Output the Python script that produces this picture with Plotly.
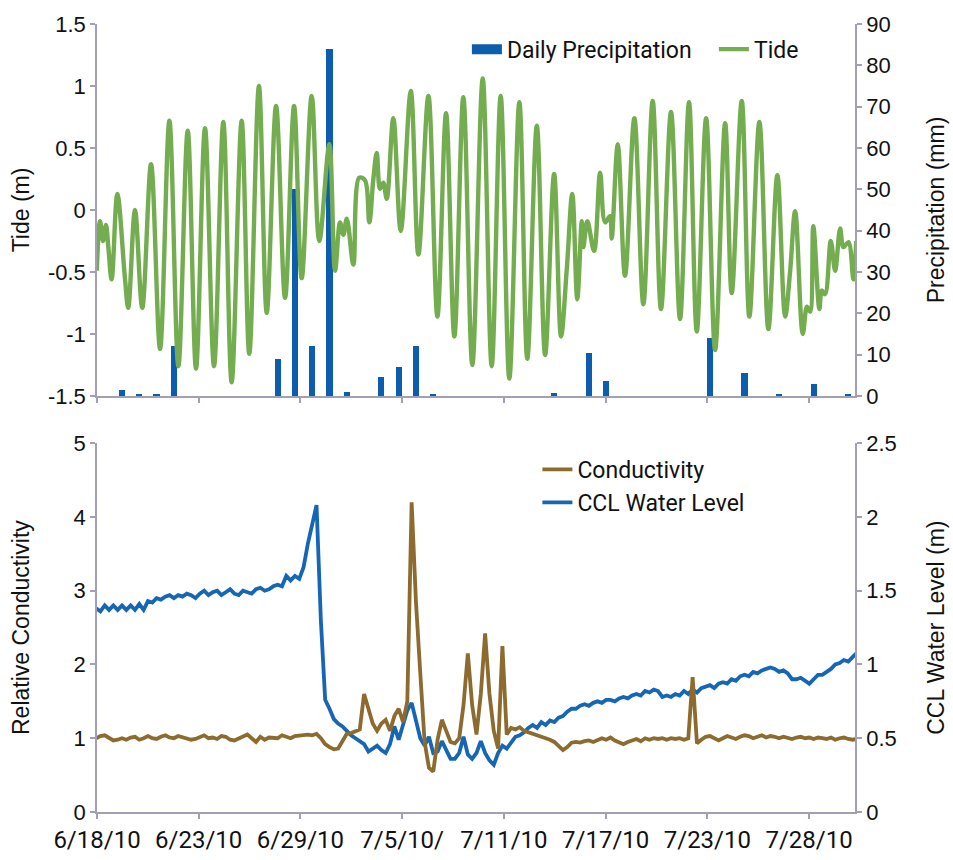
import numpy as np
import plotly.graph_objects as go

# ---- time axis labels (days since 6/18/10) ----
date_labels = ["6/18/10", "6/23/10", "6/29/10", "7/5/10/", "7/11/10", "7/17/10", "7/23/10", "7/28/10"]
first_tick_day = -0.446
tick_spacing_days = 5.883
x_range = [-0.446, 43.39]

# ---- daily precipitation (mm) ----
precip_day = list(range(1, 44))
precip_mm = [1.5, 0.3, 0.3, 12, 0, 0, 0, 0, 0, 9,
             50, 12, 84, 1, 0, 4.5, 7, 12, 0.3, 0,
             0, 0, 0, 0, 0, 0.8, 0, 10.4, 3.7, 0,
             0, 0, 0, 0, 14, 0, 5.6, 0, 0.3, 0,
             2.9, 0, 0.5]

# ---- tide (m): highs and lows with their times ----
tide_day = [-0.46, -0.27, -0.10, 0.07, 0.21, 0.40, 0.73, 1.17, 1.36, 1.75,
            2.17, 2.68, 3.20, 3.74, 4.26, 4.80, 5.28, 5.80, 6.32, 6.86,
            7.34, 7.92, 8.36, 8.92, 9.37, 9.91, 10.43, 10.95, 11.39, 11.97,
            12.41, 12.99, 13.32, 13.61, 13.80, 14.00, 14.38, 14.72, 15.05, 15.30,
            15.53, 15.73, 15.92, 16.11, 16.31, 16.69, 17.12, 17.70, 18.14, 18.72,
            19.24, 19.74, 20.22, 20.74, 21.26, 21.86, 22.38, 22.90, 23.40, 23.98,
            24.44, 24.99, 25.47, 25.99, 26.39, 26.72, 27.04, 27.33, 27.59, 27.68,
            27.91, 28.30, 28.65, 28.94, 29.22, 29.32, 29.67, 30.09, 30.63, 31.15,
            31.69, 32.17, 32.75, 33.27, 33.79, 34.24, 34.78, 35.30, 35.88, 36.26,
            36.84, 37.28, 37.86, 38.38, 38.90, 39.35, 39.64, 39.93, 40.37, 40.61,
            40.79, 40.98, 41.33, 41.47, 41.66, 41.99, 42.24, 42.53, 42.72, 43.01,
            43.30, 43.46]
tide_m = [-0.49, -0.09, -0.25, -0.12, -0.30, -0.56, 0.13, -0.55, -0.79, 0.0,
          -0.79, 0.37, -1.12, 0.72, -1.26, 0.64, -1.28, 0.66, -1.26, 0.71,
          -1.39, 0.72, -1.16, 1.0, -0.83, 0.84, -0.71, 0.84, -0.55, 0.92,
          -0.25, 0.53, -0.49, -0.10, -0.2, -0.07, -0.44, 0.26, 0.24, -0.10,
          0.24, 0.46, 0.17, 0.22, 0.09, 0.74, -0.17, 0.96, -0.36, 0.92,
          -0.86, 0.78, -1.02, 0.91, -1.25, 1.06, -1.26, 0.92, -1.36, 0.87,
          -1.2, 0.68, -1.17, 0.29, -1.02, -0.48, 0.13, -0.72, -0.09, -0.3,
          -0.09, -0.33, 0.30, -0.1, -0.05, -0.23, 0.53, -0.53, 0.74, -0.76,
          0.88, -0.8, 0.79, -0.88, 0.87, -0.98, 0.74, -1.13, 0.70, -0.67,
          0.88, -0.86, 0.71, -0.96, 0.28, -0.86, -0.49, -0.01, -1.0, -0.78,
          -0.82, -0.13, -0.8, -0.65, -0.68, -0.25, -0.49, -0.15, -0.3, -0.26,
          -0.56, -0.25]

# ---- logger series, one reading every 6 hours starting 6/17 12:00 ----
logger_start_day = -0.5
logger_step_day = 0.25
ccl_level_m = [1.38, 1.36, 1.40, 1.37, 1.40, 1.37, 1.40, 1.37, 1.40, 1.37,
               1.41, 1.37, 1.43, 1.42, 1.45, 1.44, 1.46, 1.47, 1.45, 1.47,
               1.46, 1.48, 1.47, 1.45, 1.48, 1.50, 1.47, 1.49, 1.50, 1.47,
               1.49, 1.51, 1.48, 1.47, 1.50, 1.49, 1.48, 1.51, 1.52, 1.50,
               1.51, 1.53, 1.54, 1.53, 1.60, 1.57, 1.60, 1.58, 1.66, 1.82,
               1.95, 2.08, 1.30, 0.76, 0.70, 0.63, 0.60, 0.58, 0.55, 0.52,
               0.50, 0.48, 0.46, 0.41, 0.43, 0.45, 0.42, 0.40, 0.46, 0.58,
               0.49, 0.60, 0.69, 0.74, 0.62, 0.50, 0.45, 0.51, 0.40, 0.41,
               0.48, 0.42, 0.36, 0.36, 0.40, 0.51, 0.39, 0.36, 0.40, 0.48,
               0.40, 0.35, 0.32, 0.40, 0.45, 0.43, 0.47, 0.51, 0.52, 0.54,
               0.57, 0.59, 0.57, 0.61, 0.59, 0.62, 0.61, 0.64, 0.65, 0.68,
               0.70, 0.70, 0.72, 0.73, 0.72, 0.74, 0.75, 0.74, 0.76, 0.76,
               0.75, 0.77, 0.78, 0.77, 0.79, 0.80, 0.79, 0.82, 0.81, 0.83,
               0.82, 0.78, 0.79, 0.78, 0.80, 0.79, 0.82, 0.80, 0.83, 0.81,
               0.84, 0.85, 0.86, 0.84, 0.87, 0.88, 0.87, 0.90, 0.89, 0.92,
               0.93, 0.92, 0.95, 0.94, 0.96, 0.97, 0.98, 0.97, 0.95, 0.96,
               0.94, 0.90, 0.90, 0.91, 0.89, 0.87, 0.90, 0.93, 0.93, 0.95,
               0.97, 1.00, 1.01, 1.03, 1.02, 1.05, 1.08]
rel_conductivity = [1.00, 1.03, 1.04, 1.00, 0.97, 0.98, 1.00, 0.98, 1.01, 1.02,
                    0.98, 1.00, 1.03, 1.00, 0.99, 1.02, 1.04, 1.01, 1.00, 1.03,
                    1.01, 1.00, 0.98, 0.99, 1.02, 1.04, 1.00, 1.01, 0.99, 1.03,
                    1.02, 0.98, 0.97, 1.00, 1.03, 1.05, 1.00, 0.95, 1.02, 0.98,
                    1.01, 1.01, 1.00, 1.04, 1.02, 1.00, 1.03, 1.04, 1.04, 1.05,
                    1.04, 1.06, 1.00, 0.92, 0.88, 0.85, 0.86, 0.95, 1.06, 1.07,
                    1.09, 1.12, 1.60, 1.40, 1.20, 1.10, 1.20, 1.25, 1.10, 1.30,
                    1.40, 1.22, 1.50, 4.20, 2.85, 1.88, 0.95, 0.60, 0.55, 0.98,
                    1.25, 1.10, 0.95, 0.93, 1.00, 1.45, 2.15, 1.45, 1.05, 1.60,
                    2.42, 1.60, 1.10, 0.86, 2.25, 1.05, 1.14, 1.12, 1.15, 1.10,
                    1.08, 1.06, 1.04, 1.03, 1.00, 0.98, 0.95, 0.90, 0.84, 0.88,
                    0.94, 0.95, 0.94, 0.96, 0.97, 0.95, 0.98, 1.00, 0.98, 1.01,
                    0.97, 0.94, 0.92, 0.95, 0.97, 0.99, 0.96, 1.00, 0.98, 1.00,
                    0.99, 1.00, 0.98, 1.00, 0.99, 1.00, 0.98, 1.00, 1.83, 0.93,
                    0.98, 1.02, 1.03, 1.00, 0.97, 1.00, 1.03, 1.01, 0.99, 1.02,
                    1.04, 1.03, 1.00, 1.02, 1.04, 1.01, 1.03, 1.02, 1.00, 1.02,
                    1.01, 0.99, 1.01, 1.02, 1.00, 1.01, 0.99, 1.01, 1.00, 0.99,
                    1.01, 0.98, 1.00, 1.01, 0.99, 0.98, 0.99]

# ---- axis tick labels ----
tide_ticks = [-1.5, -1, -0.5, 0, 0.5, 1, 1.5]
tide_tick_text = ["-1.5", "-1", "-0.5", "0", "0.5", "1", "1.5"]
ccl_ticks = [0, 0.5, 1, 1.5, 2, 2.5]
ccl_tick_text = ["0", "0.5", "1", "1.5", "2", "2.5"]

# ---- styling ----
GREEN = "#74AD50"
BAR_BLUE = "#0D5DAE"
LINE_BLUE = "#1666B6"
BROWN = "#8D6B2E"
AXIS = "#A29FB6"
NUM_FONT = dict(family="Liberation Sans, Arial, sans-serif", size=22, color="#111")
TITLE_FONT = dict(family="Liberation Sans, Arial, sans-serif", size=23, color="#111")
COND_FONT = dict(family="Roboto, Liberation Sans, sans-serif", size=23, color="#111")
DATE_FONT = dict(family="Roboto, Liberation Sans, sans-serif", size=24, color="#111")

tick_days = [first_tick_day + i * tick_spacing_days for i in range(len(date_labels))]
logger_day = logger_start_day + logger_step_day * np.arange(len(ccl_level_m))

fig = go.Figure()

fig.add_trace(go.Bar(x=precip_day, y=precip_mm, width=0.36, marker_color=BAR_BLUE,
                     marker_line_width=0, xaxis="x", yaxis="y", showlegend=False))
fig.add_trace(go.Scatter(x=[None], y=[None], mode="lines", name="Daily Precipitation",
                         line=dict(color=BAR_BLUE, width=10), xaxis="x", yaxis="y",
                         legend="legend", legendrank=1))
fig.add_trace(go.Scatter(x=tide_day, y=tide_m, mode="lines", name="Tide",
                         line=dict(color=GREEN, width=4.4, shape="spline", smoothing=1.0),
                         xaxis="x", yaxis="y2", legend="legend", legendrank=2))

fig.add_trace(go.Scatter(x=logger_day, y=ccl_level_m, mode="lines", name="CCL Water Level",
                         line=dict(color=LINE_BLUE, width=3.8), xaxis="x2", yaxis="y3",
                         legend="legend2", legendrank=2))
fig.add_trace(go.Scatter(x=logger_day, y=rel_conductivity, mode="lines", name="Conductivity",
                         line=dict(color=BROWN, width=3.8), xaxis="x2", yaxis="y4",
                         legend="legend2", legendrank=1))

axis_common = dict(showline=True, linecolor=AXIS, linewidth=1.5, ticks="outside",
                   tickcolor=AXIS, ticklen=5, tickwidth=1.5, showgrid=False,
                   zeroline=False, automargin=False, tickfont=NUM_FONT)

fig.update_layout(
    width=953, height=860,
    margin=dict(l=97, r=98, t=24, b=48, autoexpand=False),
    paper_bgcolor="white", plot_bgcolor="white",
    bargap=0,
    xaxis=dict(axis_common, domain=[0, 1], anchor="y", range=x_range,
               tickvals=tick_days, showticklabels=False),
    yaxis=dict(axis_common, domain=[0.528, 1], anchor="x", side="right",
               range=[0, 90], dtick=10,
               title=dict(text="Precipitation (mm)", font=TITLE_FONT, standoff=38)),
    yaxis2=dict(axis_common, overlaying="y", anchor="x", side="left",
                range=[-1.5, 1.5], tickvals=tide_ticks, ticktext=tide_tick_text,
                title=dict(text="Tide (m)", font=TITLE_FONT, standoff=12)),
    xaxis2=dict(axis_common, domain=[0, 1], anchor="y3", range=x_range,
                tickvals=tick_days, ticktext=date_labels, tickfont=DATE_FONT),
    yaxis3=dict(axis_common, domain=[0, 0.468], anchor="x2", side="right",
                range=[0, 2.5], tickvals=ccl_ticks, ticktext=ccl_tick_text,
                title=dict(text="CCL Water Level (m)", font=TITLE_FONT, standoff=32)),
    yaxis4=dict(axis_common, overlaying="y3", anchor="x2", side="left",
                range=[0, 5], dtick=1,
                title=dict(text="Relative Conductivity", font=TITLE_FONT, standoff=38)),
    legend=dict(orientation="h", x=0.488, y=0.968, xanchor="left", yanchor="middle",
                bgcolor="rgba(0,0,0,0)", font=COND_FONT, itemwidth=30,
                entrywidth=202, entrywidthmode="pixels"),
    legend2=dict(orientation="v", x=0.581, y=0.462, xanchor="left", yanchor="top",
                 bgcolor="rgba(0,0,0,0)", font=COND_FONT, itemwidth=30),
)

fig.write_html("out.html")
